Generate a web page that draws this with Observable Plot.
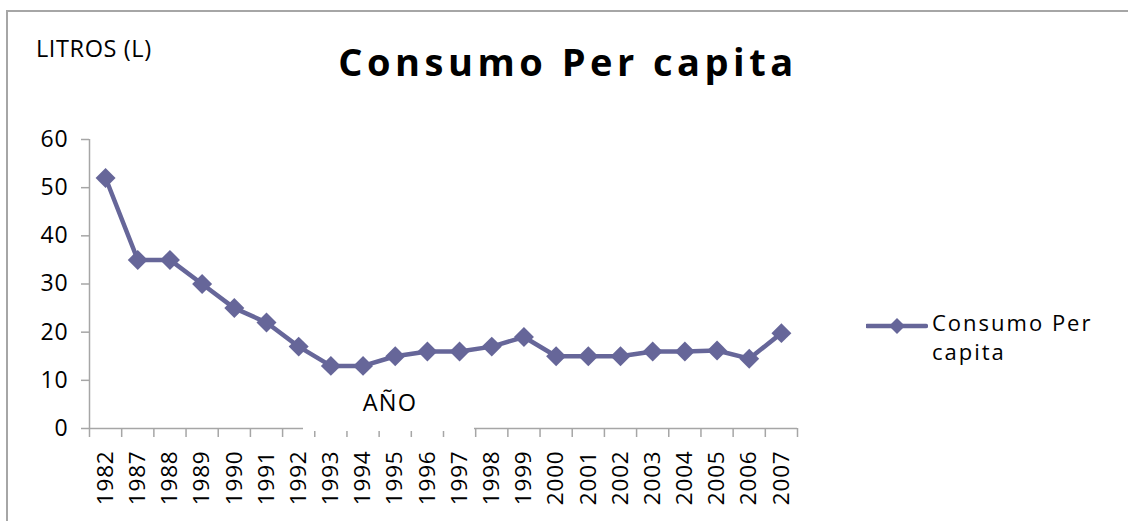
<!DOCTYPE html>
<html>
<head>
<meta charset="utf-8">
<script src="https://cdn.jsdelivr.net/npm/d3@7"></script>
<script src="https://cdn.jsdelivr.net/npm/@observablehq/plot@0.6"></script>
<style>
  body { margin: 0; background: #fff; font-family: "Open Sans", sans-serif; }
  #wrap { position: relative; width: 1128px; height: 521px; overflow: hidden; background: #fff; }
  #frame { position: absolute; left: 6px; top: 10px; width: 1300px; height: 700px; border: 2px solid #a6a6a6; box-sizing: border-box; }
  #chart { position: absolute; left: 0; top: 0; }
  #chart svg text { letter-spacing: 0.8px; }
  .lbl { position: absolute; white-space: nowrap; color: #000; }
  #title { left: 0; width: 1136px; text-align: center; top: 36px; font-size: 38px; font-weight: bold; letter-spacing: 4.5px; line-height: 50px; }
  #ylab { left: 36px; top: 33px; font-size: 23.5px; line-height: 30px; letter-spacing: 0.6px; }
  #xlab { left: 303px; top: 380px; width: 171px; height: 51px; background: #fff; font-size: 23.5px; line-height: 30px; text-align: center; padding-top: 7px; padding-left: 3px; box-sizing: border-box; letter-spacing: 1.2px; }
  #legend { left: 866px; top: 308px; font-size: 22px; line-height: 29px; letter-spacing: 2px; }
  #legend svg { position: absolute; left: 0; top: 6px; }
  #legend .t { position: absolute; left: 66px; top: 0; }
</style>
</head>
<body>
<div id="wrap">
  <div id="frame"></div>
  <div id="chart"></div>
  <div class="lbl" id="title"></div>
  <div class="lbl" id="ylab"></div>
  <div class="lbl" id="xlab"></div>
  <div class="lbl" id="legend"></div>
</div>
<script>
const years = ["1982","1987","1988","1989","1990","1991","1992","1993","1994","1995","1996","1997","1998","1999","2000","2001","2002","2003","2004","2005","2006","2007"];
const consumo = [52, 35, 35, 30, 25, 22, 17, 13, 13, 15, 16, 16, 17, 19, 15, 15, 15, 16, 16, 16.2, 14.5, 19.8];
const yTicks = [0, 10, 20, 30, 40, 50, 60];
const titleText = "Consumo Per capita";
const yLabel = "LITROS (L)";
const xLabel = "AÑO";
const seriesName = "Consumo Per capita";
const lineColor = "#666699";
const gridColor = "#a6a6a6";

const data = years.map((y, i) => ({pos: i + 0.5, year: y, value: consumo[i]}));

const chart = Plot.plot({
  width: 1128,
  height: 521,
  marginLeft: 89,
  marginRight: 331,
  marginTop: 139,
  marginBottom: 93,
  style: {fontFamily: "'Open Sans', sans-serif", fontSize: "23px", color: "#000", background: "transparent", overflow: "visible"},
  x: {type: "linear", domain: [0, years.length], axis: null, label: null},
  y: {domain: [0, 60], axis: null, label: null},
  marks: [
    Plot.ruleX([0], {stroke: gridColor, strokeWidth: 1.5}),
    Plot.axisY(yTicks, {tickSize: 8, tickPadding: 13, stroke: gridColor, strokeWidth: 1.5, fill: "#000", fontSize: 23, label: null}),
    Plot.ruleY([0], {stroke: gridColor, strokeWidth: 1.5}),
    Plot.axisX(d3.range(years.length + 1), {tickSize: 9, stroke: gridColor, strokeWidth: 1.5, fill: "none", label: null}),
    Plot.axisX(data.map(d => d.pos), {tickSize: 0, tickPadding: 22, tickRotate: -90, tickFormat: v => years[Math.floor(v)], fill: "#000", fontSize: 22.5, label: null}),
    Plot.line(data, {x: "pos", y: "value", stroke: lineColor, strokeWidth: 4.5}),
    Plot.dot(data, {x: "pos", y: "value", symbol: "diamond2", r: 9, fill: lineColor, stroke: "none"})
  ]
});
document.getElementById("chart").appendChild(chart);

document.getElementById("title").textContent = titleText;
document.getElementById("ylab").textContent = yLabel;
document.getElementById("xlab").textContent = xLabel;

const leg = document.getElementById("legend");
leg.innerHTML = `<svg width="62" height="24"><line x1="1" y1="12" x2="60" y2="12" stroke="${lineColor}" stroke-width="4.5" stroke-linecap="round"/><polygon points="31,4 39,12 31,20 23,12" fill="${lineColor}"/></svg><div class="t">${seriesName.replace(" capita", "<br>capita")}</div>`;
</script>
</body>
</html>
